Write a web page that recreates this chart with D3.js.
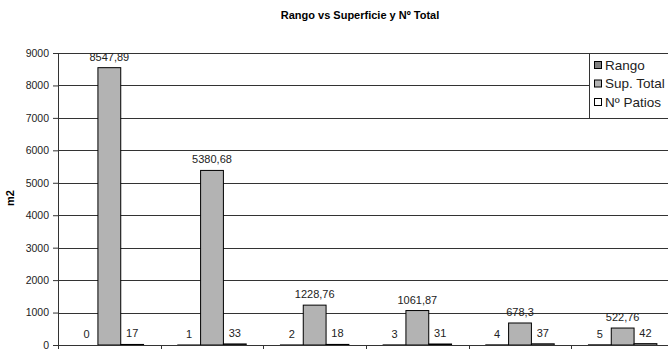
<!DOCTYPE html>
<meta charset="utf-8">
<script src="https://d3js.org/d3.v7.min.js"></script>
<style>
  body { margin: 0; background: #fff; font-family: "Liberation Sans", Arial, sans-serif; }
  .axis text { font-size: 10.5px; fill: #222; }
  .axis path, .axis line { stroke: #333; }
  .valueLabel { font-size: 11px; fill: #222; text-anchor: middle; }
</style>
<body></body>
<script>

var categories = ["0", "1", "2", "3", "4", "5"];
var seriesNames = ["Rango", "Sup. Total", "Nº Patios"];
var rango = [0, 1, 2, 3, 4, 5];
var supTotal = [8547.89, 5380.68, 1228.76, 1061.87, 678.3, 522.76];
var patios = [17, 33, 18, 31, 37, 42];
var labelsSup = ["8547,89", "5380,68", "1228,76", "1061,87", "678,3", "522,76"];
var yTicks = [0, 1000, 2000, 3000, 4000, 5000, 6000, 7000, 8000, 9000];

var W = 668, H = 349;
var plot = {left: 58, top: 53, right: 674, bottom: 345};

var svg = d3.select("body").append("svg")
    .attr("width", W)
    .attr("height", H);

var x0 = d3.scaleBand()
    .domain(categories)
    .range([plot.left, plot.right]);
var y = d3.scaleLinear()
    .domain([0, 9000])
    .range([plot.bottom, plot.top]);
var color = d3.scaleOrdinal()
    .domain(seriesNames)
    .range(["#808080", "#b3b3b3", "#ffffff"]);

var barW = x0.bandwidth() / 4.5;

// gridlines
svg.append("g")
  .selectAll("line")
  .data(yTicks.slice(1))
  .enter().append("line")
    .attr("x1", plot.left)
    .attr("x2", plot.right)
    .attr("y1", function(d) { return Math.round(y(d)) + 0.5; })
    .attr("y2", function(d) { return Math.round(y(d)) + 0.5; })
    .attr("stroke", "#333");

// bars
var rows = categories.map(function(c, i) {
  return {cat: c, values: [rango[i], supTotal[i], patios[i]]};
});
var group = svg.append("g")
  .selectAll("g")
  .data(rows)
  .enter().append("g")
    .attr("transform", function(d) {
      return "translate(" + (x0(d.cat) + x0.bandwidth() / 2 - 1.5 * barW) + ",0)";
    });
group.selectAll("rect")
  .data(function(d) { return d.values.map(function(v, j) { return {v: v, s: seriesNames[j], j: j}; }); })
  .enter().append("rect")
    .attr("x", function(d) { return d.j * barW; })
    .attr("y", function(d) { return y(d.v); })
    .attr("width", barW)
    .attr("height", function(d) { return Math.max(0, y(0) - y(d.v)); })
    .attr("fill", function(d) { return color(d.s); })
    .attr("stroke", "#000")
    .attr("stroke-width", 1);

// labels
group.selectAll("text")
  .data(function(d, i) {
    return [
      {t: String(rango[i]), v: rango[i], j: 0},
      {t: labelsSup[i], v: supTotal[i], j: 1},
      {t: String(patios[i]), v: patios[i], j: 2}
    ];
  })
  .enter().append("text")
    .attr("class", "valueLabel")
    .attr("x", function(d) { return d.j * barW + barW / 2; })
    .attr("y", function(d) { return y(d.v) - 7; })
    .text(function(d) { return d.t; });

// axes
svg.append("g")
    .attr("class", "axis")
    .attr("transform", "translate(" + plot.left + ",0)")
    .call(d3.axisLeft(y).tickValues(yTicks).tickFormat(d3.format("d"))
      .tickSize(5).tickPadding(4).tickSizeOuter(0));

var xAxis = svg.append("g")
    .attr("class", "axis")
    .attr("transform", "translate(0," + plot.bottom + ")");
xAxis.append("line")
    .attr("x1", plot.left).attr("x2", plot.right)
    .attr("y1", 0.5).attr("y2", 0.5)
    .attr("stroke", "#333");
xAxis.selectAll(".sep")
  .data(categories)
  .enter().append("line")
    .attr("x1", function(d) { return Math.round(x0(d)) + 0.5; })
    .attr("x2", function(d) { return Math.round(x0(d)) + 0.5; })
    .attr("y1", 0)
    .attr("y2", 5)
    .attr("stroke", "#333");

// titles
svg.append("text")
    .attr("x", 360)
    .attr("y", 19)
    .attr("text-anchor", "middle")
    .attr("font-size", 11)
    .attr("font-weight", "bold")
    .text("Rango vs Superficie y Nº Total");
svg.append("text")
    .attr("transform", "translate(14,198) rotate(-90)")
    .attr("text-anchor", "middle")
    .attr("font-size", 11)
    .attr("font-weight", "bold")
    .text("m2");

// legend
var legend = svg.append("g").attr("transform", "translate(589,53)");
legend.append("rect")
    .attr("x", 0.5).attr("y", 0.5)
    .attr("width", 100).attr("height", 65)
    .attr("fill", "#fff")
    .attr("stroke", "#333");
var item = legend.selectAll(".item")
  .data(seriesNames)
  .enter().append("g")
    .attr("transform", function(d, i) { return "translate(5," + (12 + i * 18.5) + ")"; });
item.append("rect")
    .attr("x", 0.5).attr("y", -3.5)
    .attr("width", 7).attr("height", 7)
    .attr("fill", function(d) { return color(d); })
    .attr("stroke", "#000");
item.append("text")
    .attr("x", 11)
    .attr("dy", "0.35em")
    .attr("font-size", 13.5)
    .attr("fill", "#222")
    .text(function(d) { return d; });

</script>
